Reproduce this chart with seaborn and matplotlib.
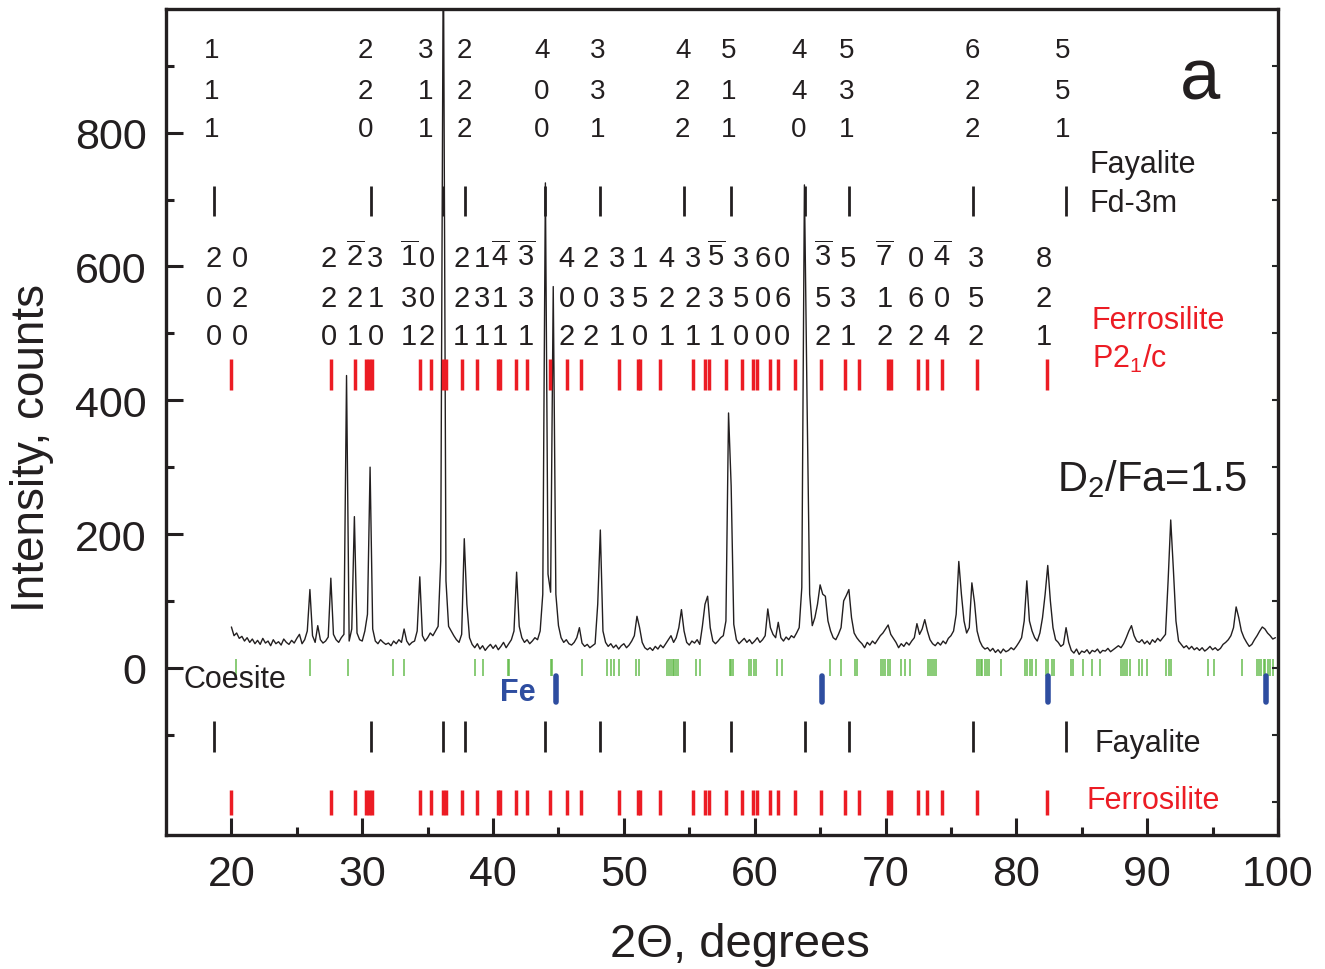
import numpy as np
import pandas as pd
import matplotlib
matplotlib.use("Agg")
import matplotlib.pyplot as plt
from matplotlib.ticker import MultipleLocator, FixedLocator
import seaborn as sns

# ---------------- data ----------------
two_theta_start = 20.0
two_theta_step = 0.2
intensity = [
    61, 48, 52, 44, 47, 40, 45, 38, 43, 36,
    41, 35, 44, 37, 40, 33, 42, 36, 39, 34,
    43, 38, 35, 41, 37, 44, 50, 36, 42, 55,
    117, 48, 38, 63, 42, 37, 40, 46, 134, 50,
    42, 38, 45, 50, 437, 40, 58, 226, 52, 42,
    40, 55, 80, 300, 58, 40, 36, 42, 38, 35,
    37, 33, 40, 36, 42, 38, 58, 40, 34, 38,
    40, 55, 136, 48, 40, 45, 52, 48, 55, 62,
    160, 1100, 130, 62, 55, 48, 42, 38, 50, 193,
    95, 45, 35, 30, 36, 28, 33, 26, 31, 35,
    29, 34, 27, 32, 38, 30, 36, 42, 55, 143,
    62, 45, 38, 42, 36, 40, 45, 42, 55, 110,
    725, 140, 113, 570, 110, 63, 45, 38, 42, 36,
    34, 38, 45, 60, 37, 32, 35, 30, 33, 36,
    95, 206, 55, 38, 32, 36, 30, 34, 28, 33,
    36, 30, 34, 40, 48, 77, 60, 38, 30, 27,
    30, 26, 32, 28, 34, 30, 36, 42, 48, 38,
    45, 60, 87, 55, 38, 34, 40, 37, 42, 35,
    62, 95, 107, 60, 40, 36, 40, 45, 48, 70,
    381, 272, 65, 42, 36, 40, 44, 38, 42, 36,
    40, 45, 38, 42, 48, 88, 60, 50, 45, 68,
    45, 40, 46, 42, 48, 45, 52, 60, 120, 722,
    400, 110, 63, 75, 95, 124, 110, 107, 70, 55,
    45, 42, 50, 60, 100, 108, 117, 75, 52, 45,
    40, 36, 30, 38, 34, 40, 36, 42, 48, 52,
    58, 64, 50, 44, 38, 30, 36, 32, 38, 34,
    40, 45, 66, 50, 58, 72, 55, 42, 36, 33,
    38, 34, 40, 36, 44, 48, 55, 80, 159, 110,
    70, 52, 60, 127, 98, 55, 40, 32, 28, 30,
    25, 29, 23, 27, 22, 28, 24, 26, 30, 27,
    32, 38, 45, 70, 130, 70, 55, 45, 40, 52,
    75, 110, 153, 100, 60, 42, 38, 32, 35, 60,
    38, 26, 22, 28, 20, 25, 23, 27, 21, 26,
    24, 28, 22, 26, 25, 29, 24, 27, 30, 33,
    30, 36, 45, 55, 63, 48, 40, 38, 42, 36,
    40, 35, 42, 38, 44, 40, 45, 50, 130, 221,
    148, 70, 40, 35, 30, 33, 28, 32, 27, 30,
    26, 30, 25, 28, 32, 27, 30, 26, 29, 35,
    38, 42, 48, 60, 91, 75, 55, 45, 38, 32,
    35, 42, 48, 55, 61, 58, 52, 48, 43, 45,
]

fayalite_pos = [18.67, 30.70, 36.17, 37.82, 43.98, 48.17, 54.58, 58.16,
                63.88, 67.19, 76.72, 83.77]
fayalite_label_x = [18.52, 30.24, 34.82, 37.82, 43.72, 48.02, 54.50, 58.01,
                    63.38, 67.04, 76.65, 83.51]
fayalite_hkl = ["111", "220", "311", "222", "400", "331", "422", "511",
                "440", "531", "622", "551"]

ferro_pos = [20.00, 27.63, 29.43, 30.25, 30.55, 30.75, 34.44, 35.28, 36.17,
             36.37, 37.64, 38.79, 40.37, 40.52, 41.76, 42.60, 44.36, 45.68,
             46.70, 49.64, 51.05, 51.22, 52.75, 55.32, 56.23, 56.49, 57.78,
             59.00, 59.87, 60.17, 61.14, 61.77, 63.07, 65.08, 66.94, 68.01,
             70.17, 70.43, 72.45, 73.14, 74.31, 77.03, 82.37]
ferro_label_x = [18.67, 20.63, 27.45, 29.43, 31.01, 33.55, 34.95, 37.57,
                 39.15, 40.54, 42.50, 45.63, 47.46, 49.49, 51.22, 53.26,
                 55.29, 57.07, 58.98, 60.63, 62.11, 65.21, 67.11, 69.91,
                 72.33, 74.31, 76.91, 82.12]
ferro_h = ["2", "0", "2", "-2", "3", "-1", "0", "2", "1", "-4", "-3", "4",
           "2", "3", "1", "4", "3", "-5", "3", "6", "0", "-3", "5", "-7",
           "0", "-4", "3", "8"]
ferro_k = ["0", "2", "2", "2", "1", "3", "0", "2", "3", "1", "3", "0",
           "0", "3", "5", "2", "2", "3", "5", "0", "6", "5", "3", "1",
           "6", "0", "5", "2"]
ferro_l = ["0", "0", "0", "1", "0", "1", "2", "1", "1", "1", "1", "2",
           "2", "1", "0", "1", "1", "1", "0", "0", "0", "2", "1", "2",
           "2", "4", "2", "1"]

coesite_pos = [20.33, 25.97, 28.90, 32.33, 33.22, 38.59, 39.20, 41.13, 41.25,
               44.45, 44.53, 46.77, 48.68, 48.99, 49.26, 49.62, 50.92, 51.17,
               53.31, 53.46, 53.59, 53.72, 53.84, 53.97, 54.15, 55.50, 55.80,
               58.09, 58.22, 58.34, 59.56, 59.74, 59.92, 60.07, 61.73, 62.08,
               65.77, 66.56, 67.70, 67.83, 69.66, 69.84, 69.99, 70.17, 70.35,
               71.19, 71.49, 71.87, 73.22, 73.40, 73.55, 73.73, 73.86, 76.96,
               77.11, 77.26, 77.41, 77.57, 77.79, 77.92, 78.81, 80.67, 80.84,
               81.03, 81.18, 81.53, 82.29, 82.45, 82.70, 82.88, 84.15, 84.33,
               85.09, 85.76, 86.37, 87.97, 88.14, 88.30, 88.47, 88.66, 89.37,
               89.57, 90.00, 91.45, 91.65, 91.81, 94.65, 95.09, 97.25, 98.39,
               98.57, 98.72, 98.90, 99.03, 99.23, 99.41, 99.59]
fe_pos = [44.79, 65.13, 82.45, 99.08]

# ---------------- style ----------------
sns.set_style("ticks")
plt.rcParams["font.family"] = ["Liberation Sans", "DejaVu Sans"]
plt.rcParams["mathtext.fontset"] = "custom"
plt.rcParams["mathtext.rm"] = "Liberation Sans"
plt.rcParams["mathtext.it"] = "Liberation Sans:italic"
plt.rcParams["mathtext.bf"] = "Liberation Sans:bold"
plt.rcParams["mathtext.default"] = "regular"

RED = "#ec1c24"
BLUE = "#2e4da0"
GREEN = "#5fb947"
INK = "#231f20"

fig = plt.figure(figsize=(13.25, 9.7), dpi=100)
ax = fig.add_axes([166 / 1325, 134 / 970, 1112 / 1325, 826 / 970])

two_theta = np.round(two_theta_start + two_theta_step * np.arange(len(intensity)), 1)
df = pd.DataFrame({"two_theta": two_theta, "intensity": intensity})
sns.lineplot(data=df, x="two_theta", y="intensity", ax=ax, color=INK,
             lw=1.0, estimator=None, sort=False)

ax.set_xlim(15, 100)
ax.set_ylim(-250, 985)

# reflection markers
ax.vlines(fayalite_pos, 675, 720, color=INK, lw=2)
ax.vlines(ferro_pos, 415, 461, color=RED, lw=2.5)
ax.vlines(coesite_pos, -13, 13, color=GREEN, lw=1.3, alpha=0.8)
ax.vlines(fe_pos, -51, -12, color=BLUE, lw=4, capstyle="round")
ax.vlines(fayalite_pos, -126, -79, color=INK, lw=2)
ax.vlines(ferro_pos, -220, -183, color=RED, lw=2.5)


def digit(s):
    return r"$\overline{%s}$" % s[1:] if s.startswith("-") else s


# Fayalite hkl
for x, hkl in zip(fayalite_label_x, fayalite_hkl):
    for ch, yb in zip(hkl, (913, 852, 795)):
        ax.text(x, yb, ch, fontsize=20, ha="center", va="baseline", color=INK)

# Ferrosilite hkl
for x, h, k, l in zip(ferro_label_x, ferro_h, ferro_k, ferro_l):
    for ch, yb in zip((h, k, l), (601, 541, 484)):
        ax.text(x, yb, digit(ch), fontsize=21, ha="center", va="baseline", color=INK)

ax.text(85.6, 742, "Fayalite", fontsize=22, color=INK, va="baseline")
ax.text(85.6, 683, "Fd-3m", fontsize=22, color=INK, va="baseline")
ax.text(94.0, 851, "a", fontsize=52, color=INK, ha="center", va="baseline")
ax.text(85.78, 508, "Ferrosilite", fontsize=22, color=RED, va="baseline")
ax.text(85.78, 450, "P2$_1$/c", fontsize=22, color=RED, va="baseline")
ax.text(83.1, 265, "D$_2$/Fa=1.5", fontsize=30, color=INK, va="baseline")
ax.text(16.36, -28, "Coesite", fontsize=22, color=INK, va="baseline")
ax.text(40.54, -48, "Fe", fontsize=22, color=BLUE, fontweight="bold", va="baseline")
ax.text(85.94, -124, "Fayalite", fontsize=22, color=INK, va="baseline")
ax.text(85.4, -209, "Ferrosilite", fontsize=22, color=RED, va="baseline")

# axes cosmetics
ax.xaxis.set_major_locator(MultipleLocator(10))
ax.xaxis.set_minor_locator(FixedLocator([25, 35, 45, 55, 65, 75, 85, 95]))
ax.yaxis.set_major_locator(FixedLocator([0, 200, 400, 600, 800]))
ax.yaxis.set_minor_locator(FixedLocator([-100, 100, 300, 500, 700, 900]))
ax.tick_params(which="major", direction="in", length=12, width=2.2,
               labelsize=31, pad=14, colors=INK)
ax.tick_params(which="minor", direction="in", length=6, width=2.2, colors=INK)
for sp in ax.spines.values():
    sp.set_linewidth(2.4)
    sp.set_color(INK)

ax2 = ax.twinx()
ax2.set_ylim(ax.get_ylim())
ax2.yaxis.set_major_locator(FixedLocator(list(range(-200, 901, 100))))
ax2.tick_params(axis="y", direction="in", length=4, width=1.5, labelright=False)
for sp in ax2.spines.values():
    sp.set_visible(False)

ax.set_xlabel("2Θ, degrees", fontsize=34, color=INK)
ax.set_ylabel("Intensity, counts", fontsize=33, color=INK)
ax.xaxis.set_label_coords(0.516, -0.105)
ax.yaxis.set_label_coords(-0.101, 0.47)

fig.savefig("out.png", dpi=100)
